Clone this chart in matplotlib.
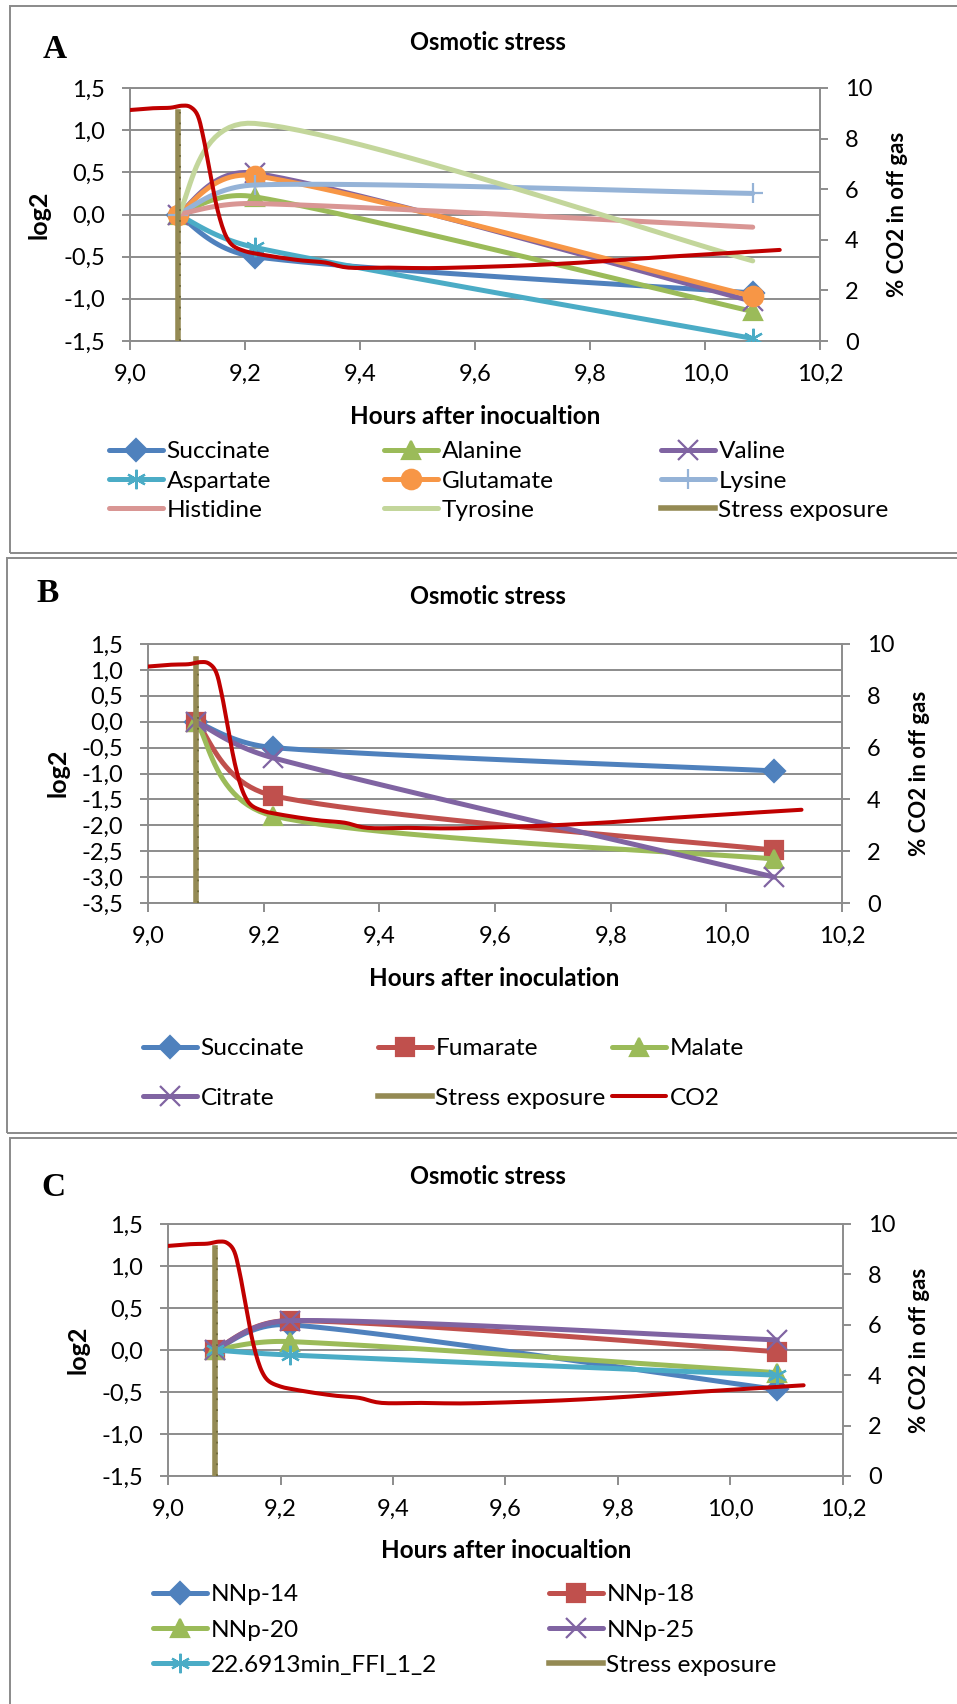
import numpy as np
import matplotlib
matplotlib.use("Agg")
import matplotlib.pyplot as plt
from matplotlib.patches import Rectangle
from matplotlib.transforms import offset_copy

# ---------------------------------------------------
# DATA
# ---------------------------------------------------

# sampling times, hours after inoculation
t_samples = [9.083, 9.217, 10.083]
stress_time = 9.083
stress_top = 1.22

# off gas CO2 (%)
co2_time = [9.00, 9.04, 9.07, 9.09, 9.105, 9.118, 9.128, 9.138, 9.148, 9.158,
            9.168, 9.18, 9.20, 9.22, 9.26, 9.30, 9.34, 9.38, 9.45, 9.52,
            9.60, 9.70, 9.80, 9.90, 10.00, 10.07, 10.13]
co2_pct = [9.13, 9.20, 9.22, 9.30, 9.25, 8.90, 8.00, 6.80, 5.60, 4.70,
           4.10, 3.75, 3.55, 3.45, 3.30, 3.18, 3.10, 2.90, 2.90, 2.88,
           2.92, 3.00, 3.12, 3.28, 3.42, 3.52, 3.60]

# panel A - amino acids (log2)
a_labels = ["Succinate", "Alanine", "Valine", "Aspartate", "Glutamate",
            "Lysine", "Histidine", "Tyrosine"]
a_log2 = [[0, -0.50, -0.93],
          [0, 0.21, -1.15],
          [0, 0.49, -1.03],
          [0, -0.39, -1.47],
          [0, 0.46, -0.97],
          [0, 0.35, 0.25],
          [0, 0.13, -0.15],
          [0, 1.08, -0.55]]

# panel B - TCA acids (log2)
b_labels = ["Succinate", "Fumarate", "Malate", "Citrate"]
b_log2 = [[0, -0.50, -0.95],
          [0, -1.43, -2.48],
          [0, -1.82, -2.65],
          [0, -0.70, -3.00]]

# panel C - unknowns (log2)
c_labels = ["NNp-14", "NNp-18", "NNp-20", "NNp-25", "22.6913min_FFI_1_2"]
c_log2 = [[0, 0.30, -0.47],
          [0, 0.35, -0.02],
          [0, 0.10, -0.27],
          [0, 0.35, 0.12],
          [0, -0.06, -0.30]]

# ---------------------------------------------------
# STYLE
# ---------------------------------------------------

W, H = 957, 1704
plt.rcParams["font.family"] = ["Lato", "DejaVu Sans"]

GRID = "#8c8c8c"
CO2_RED = "#C00000"
STRESS = "#948A54"
ASTER = (6, 2, 0)
TICK_FS = 17
LEG_FS = 17.6

STYLES = {
    "Succinate": ("#4F81BD", "D", 11),
    "NNp-14": ("#4F81BD", "D", 11),
    "Alanine": ("#9BBB59", "^", 13),
    "Malate": ("#9BBB59", "^", 13),
    "NNp-20": ("#9BBB59", "^", 13),
    "Valine": ("#8064A2", "x", 14),
    "Citrate": ("#8064A2", "x", 14),
    "NNp-25": ("#8064A2", "x", 14),
    "Aspartate": ("#4BACC6", ASTER, 14),
    "22.6913min_FFI_1_2": ("#4BACC6", ASTER, 14),
    "Glutamate": ("#F79646", "o", 14),
    "Lysine": ("#95B3D7", "+", 14),
    "Histidine": ("#D99694", "None", 0),
    "Tyrosine": ("#C3D69B", "None", 0),
    "Fumarate": ("#C0504D", "s", 13),
    "NNp-18": ("#C0504D", "s", 13),
}


def fx(px):
    return px / W


def fy(py):
    return 1 - py / H


def excel_smooth(ax, x, y, steps=25):
    # bezier "smoothed line", worked out in screen pixels so the
    # control arms can be capped at half the segment length
    bb = ax.get_window_extent()
    x0, x1 = ax.get_xlim()
    y0, y1 = ax.get_ylim()
    sx = bb.width / (x1 - x0)
    sy = bb.height / (y1 - y0)
    pts = np.column_stack([np.asarray(x) * sx, np.asarray(y) * sy])
    n = len(pts)
    out = [pts[0]]
    t = np.linspace(0, 1, steps)[1:, None]
    for i in range(n - 1):
        p0 = pts[i - 1] if i > 0 else pts[i]
        p1 = pts[i]
        p2 = pts[i + 1]
        p3 = pts[i + 2] if i + 2 < n else pts[i + 1]
        half = np.hypot(*(p2 - p1)) / 2
        v1 = p2 - p0
        v2 = p3 - p1
        f1 = min(1 / 6, half / max(np.hypot(*v1), 1e-9))
        f2 = min(1 / 6, half / max(np.hypot(*v2), 1e-9))
        c1 = p1 + v1 * f1
        c2 = p2 - v2 * f2
        seg = ((1 - t) ** 3 * p1 + 3 * (1 - t) ** 2 * t * c1
               + 3 * (1 - t) * t ** 2 * c2 + t ** 3 * p2)
        out.extend(seg)
    out = np.array(out)
    return out[:, 0] / sx, out[:, 1] / sy, list(range(0, len(out), steps - 1))


def comma(v):
    return f"{round(v, 1) + 0.0:.1f}".replace(".", ",")


fig = plt.figure(figsize=(W / 100, H / 100), dpi=100)


def make_axes(x0, y_top, x1, y_bot, ylo):
    ax = fig.add_axes([fx(x0), fy(y_bot), (x1 - x0) / W, (y_bot - y_top) / H])
    ax.set_xlim(9.0, 10.2)
    ax.set_ylim(ylo, 1.5)
    xt = np.arange(9.0, 10.21, 0.2)
    ax.set_xticks(xt)
    ax.set_xticklabels([comma(v) for v in xt])
    yt = np.arange(ylo, 1.51, 0.5)
    ax.set_yticks(yt)
    ax.set_yticklabels([comma(v) for v in yt])
    ax.grid(axis="y", color=GRID, lw=1.4)
    ax.set_axisbelow(True)
    for s in ["left", "bottom", "top"]:
        ax.spines[s].set_color(GRID)
        ax.spines[s].set_linewidth(1.4)
    ax.spines["right"].set_visible(False)
    ax.tick_params(axis="x", direction="out", length=6.5, width=1.4,
                   color=GRID, pad=10, labelsize=TICK_FS)
    ax.tick_params(axis="y", direction="out", length=6, width=1.4,
                   color=GRID, pad=12, labelsize=TICK_FS)

    ax2 = ax.twinx()
    ax2.set_ylim(0, 10)
    ax2.set_yticks(range(0, 11, 2))
    for s in ["left", "bottom", "top"]:
        ax2.spines[s].set_visible(False)
    ax2.spines["right"].set_color(GRID)
    ax2.spines["right"].set_linewidth(1.4)
    ax2.tick_params(axis="y", direction="out", length=6, width=1.4,
                    color=GRID, pad=12, labelsize=TICK_FS)
    return ax, ax2


def plot_series(ax, labels, values):
    handles = []
    for name, vals in zip(labels, values):
        color, marker, ms = STYLES[name]
        xs, ys, idx = excel_smooth(ax, t_samples, vals)
        line, = ax.plot(xs, ys, color=color, lw=3.6, marker=marker, ms=ms,
                        mew=1.6, markevery=idx, solid_capstyle="round",
                        label=name, zorder=3)
        handles.append(line)
    return handles


def plot_stress(ax):
    ys = [ax.get_ylim()[0], stress_top]
    line, = ax.plot([stress_time, stress_time], ys, color=STRESS, lw=4,
                    zorder=4, label="Stress exposure")
    # small darker dots along the right edge of the bar
    ax.plot([stress_time, stress_time], ys, color="#6e6838", lw=1.3,
            ls=(0, (1, 5)), zorder=4,
            transform=offset_copy(ax.transData, fig=fig, x=2, y=0,
                                  units="dots"))
    return line


def plot_co2(ax2):
    xs, ys, _ = excel_smooth(ax2, co2_time, co2_pct, steps=6)
    line, = ax2.plot(xs, ys, color=CO2_RED, lw=2.9, solid_capstyle="round",
                     label="CO2", zorder=5)
    return line


def column_legends(handles, ncol, col_x, mid_y, spacing):
    for c in range(ncol):
        hs = handles[c::ncol]
        fig.legend(hs, [h.get_label() for h in hs], loc="center left",
                   bbox_to_anchor=(fx(col_x[c]), fy(mid_y)),
                   bbox_transform=fig.transFigure, frameon=False,
                   borderpad=0, borderaxespad=0, handlelength=2.2,
                   handletextpad=0.15, labelspacing=spacing, numpoints=1,
                   fontsize=LEG_FS)


def panel_text(letter, lx, ly, title_y, ylab_left, ylab_right, xlab, xlab_pos):
    fig.text(fx(lx), fy(ly), letter, family="Liberation Serif", fontsize=24,
             fontweight="bold", ha="center", va="center")
    fig.text(fx(488), fy(title_y), "Osmotic stress", fontsize=17,
             fontweight="bold", ha="center", va="center")
    fig.text(fx(ylab_left[0]), fy(ylab_left[1]), "log2", fontsize=18,
             fontweight="bold", rotation=90, ha="center", va="center")
    fig.text(fx(ylab_right[0]), fy(ylab_right[1]), "% CO2 in off gas",
             fontsize=16, fontweight="bold", rotation=90, ha="center",
             va="center")
    fig.text(fx(xlab_pos[0]), fy(xlab_pos[1]), xlab, fontsize=17.5,
             fontweight="bold", ha="center", va="center")


def frame(x0, y0, x1, y1):
    fig.add_artist(Rectangle((fx(x0), fy(y1)), (x1 - x0) / W, (y1 - y0) / H,
                             transform=fig.transFigure, fill=False,
                             edgecolor="#8a8a8a", lw=1.4, clip_on=False))


# ---------------------------------------------------
# PANEL FRAMES
# ---------------------------------------------------

frame(10, 6, 975, 553)
frame(7, 558, 975, 1133)
frame(10, 1138, 975, 1720)

# ---------------------------------------------------
# PANEL A
# ---------------------------------------------------

ax, ax2 = make_axes(130, 88, 820, 341, -1.5)
hs = plot_series(ax, a_labels, a_log2)
hs.append(plot_stress(ax))
plot_co2(ax2)
panel_text("A", 55, 50, 43, (39, 215), (898, 214),
           "Hours after inocualtion", (475, 416))
column_legends(hs, 3, [109, 384, 661], 481, 0.33)

# ---------------------------------------------------
# PANEL B
# ---------------------------------------------------

ax, ax2 = make_axes(148, 644, 842, 903, -3.5)
hs = plot_series(ax, b_labels, b_log2)
hs.append(plot_stress(ax))
hs.append(plot_co2(ax2))
panel_text("B", 48, 593, 596, (58, 773), (920, 773),
           "Hours after inoculation", (494, 978))
column_legends(hs, 3, [143, 378, 612], 1073.5, 1.15)

# ---------------------------------------------------
# PANEL C
# ---------------------------------------------------

ax, ax2 = make_axes(168, 1224, 843, 1476, -1.5)
hs = plot_series(ax, c_labels, c_log2)
hs.append(plot_stress(ax))
plot_co2(ax2)
panel_text("C", 53, 1188, 1176, (78, 1350), (920, 1350),
           "Hours after inocualtion", (506, 1550))
column_legends(hs, 2, [153, 549], 1630, 0.58)

fig.savefig("out.png", dpi=100)
